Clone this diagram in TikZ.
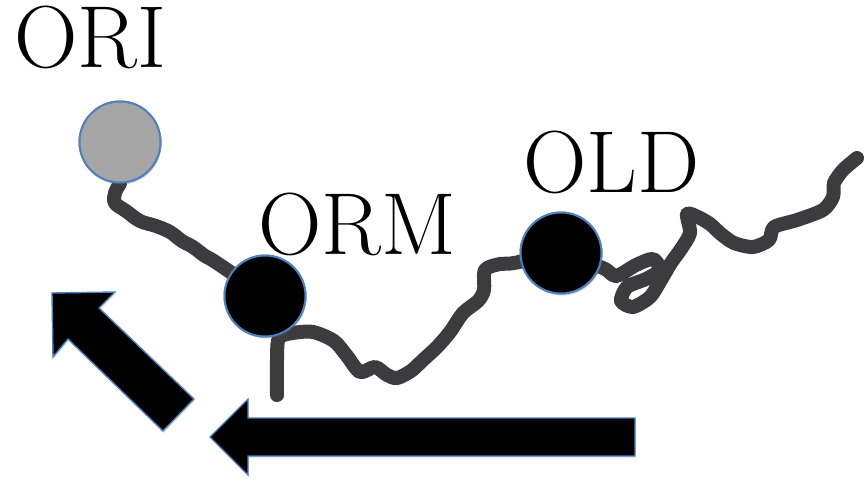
\documentclass[tikz,border=0pt]{standalone}
\usetikzlibrary{shadows}
\definecolor{edgeblue}{HTML}{4F81BD}
\definecolor{inkgray}{HTML}{3C3C3E}
\definecolor{softgray}{HTML}{A6A6A6}
\begin{document}
\begin{tikzpicture}[x=1pt,y=-1pt,
  site/.style={circle,draw=edgeblue,line width=2pt,minimum size=81pt,inner sep=0pt,
    drop shadow={opacity=0.18,shadow xshift=1pt,shadow yshift=-2pt}},
  tag/.style={anchor=base west,inner sep=0pt,text height=52pt,text depth=0pt,
    font=\fontsize{88}{88}\selectfont},
  trail/.style={draw=inkgray,line width=14pt,line cap=round,line join=round},
  bigarrow/.style={fill=black,draw=edgeblue,line width=1.4pt,line join=miter,
    drop shadow={opacity=0.18,shadow xshift=1pt,shadow yshift=-2pt}}]
\useasboundingbox (0,0) rectangle (865,479);

% site markers (placed first so the track can start from them)
\node[site,fill=softgray] (ori) at (120,142) {};
\node[site,fill=black]    (orm) at (265,296) {};
\node[site,fill=black]    (old) at (561,253) {};

% labels
\node[tag] (oriL) at (14,67)  {ORI};
\node[tag] (ormL) at (258,254) {ORM};
\node[tag] (oldL) at (523,192) {OLD};

% hand-drawn track
\path[trail] plot[smooth,tension=0.6] coordinates {
  (ori.south) (115,193) (115,203) (126,211) (140,221) (156,226) (170,232)
  (182,241) (193,247) (205,256) (217,263) (orm.center)};
\path[trail] plot[smooth,tension=0.5] coordinates {
  (277,395) (277,360) (279,338) (293,333) (313,332) (334,341) (347,356)
  (360,372) (375,367) (387,375) (397,378) (411,371) (423,360) (437,347) (450,332)
  (463,313) (478,301) (484,290) (485,270) (500,264) (514,263) (old.center)};
\path[trail] plot[smooth,tension=0.45] coordinates {
  (old.center) (603,268) (616,276) (636,265) (653,259) (660,270) (646,279)
  (627,287) (621,301) (633,307) (650,297) (661,280) (671,263) (681,249)
  (690,233) (687,214) (698,217) (710,224) (721,234) (734,243) (753,247)
  (769,240) (774,227) (797,220) (823,210) (833,197) (834,183) (843,170) (857,158)};

% markers redrawn on top of the track
\node[site,fill=softgray] at (ori.center) {};
\node[site,fill=black]    at (orm.center) {};
\node[site,fill=black]    at (old.center) {};

% movement arrows
\path[bigarrow] (52,293) -- (115,292) -- (99,308) -- (194,399) -- (163,431)
  -- (68,339) -- (53,357) -- cycle;
\path[bigarrow] (210,437) -- (248,399) -- (248,418) -- (635,418) -- (635,456)
  -- (248,456) -- (248,475) -- cycle;
\end{tikzpicture}
\end{document}
